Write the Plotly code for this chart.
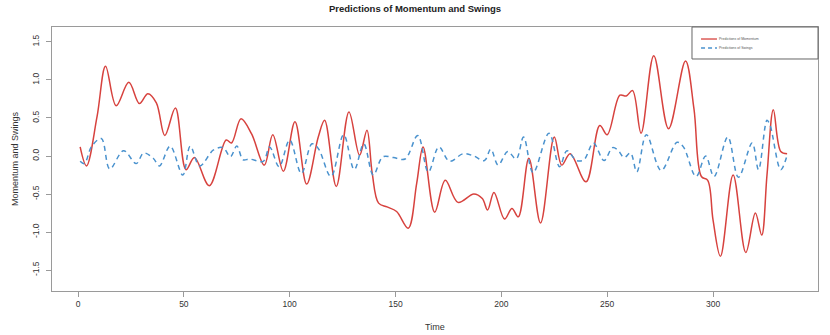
import plotly.graph_objects as go

# Momentum predictions (red)
mom_t = [1, 4, 9, 13, 18, 24, 29, 33, 37, 41, 46, 51, 55, 62, 70, 72.5, 77, 82, 88, 92, 97,
         102.5, 108, 113.5, 116.5, 122, 128, 133, 136.5, 139, 142, 146, 150.5, 156, 160, 163,
         168.5, 173.5, 179.5, 187, 191, 193.5, 196.5, 201.5, 205, 208, 213, 218.5, 225, 228.5,
         232.5, 240, 246.5, 250, 256, 259, 262, 266, 272, 279, 287, 291, 294.5, 297.5, 300,
         303.5, 309.5, 315.5, 320, 323, 325.5, 328.5, 332, 335]
mom_v = [0.12, -0.13, 0.52, 1.18, 0.66, 0.97, 0.69, 0.82, 0.70, 0.27, 0.63, -0.18, -0.02, -0.39,
         0.21, 0.17, 0.49, 0.29, -0.12, 0.28, -0.20, 0.45, -0.37, 0.25, 0.47, -0.40, 0.58, 0.01,
         0.34, -0.23, -0.62, -0.67, -0.73, -0.95, -0.36, 0.12, -0.74, -0.32, -0.61, -0.50, -0.56,
         -0.71, -0.48, -0.83, -0.69, -0.80, -0.03, -0.88, 0.25, -0.12, 0.03, -0.34, 0.40, 0.28,
         0.80, 0.79, 0.86, 0.30, 1.32, 0.36, 1.25, 0.62, -0.27, -0.32, -0.84, -1.32, -0.25, -1.27,
         -0.75, -1.04, -0.25, 0.61, 0.06, 0.03]

# Swings predictions (blue dashed)
sw_t = [1, 3, 6.5, 11, 15, 21.5, 27.5, 31, 35.5, 38.5, 43.5, 49.5, 53, 57.5, 64, 68.5, 72, 75,
        78, 81, 87.5, 90.5, 95, 100, 105.5, 110.5, 113.5, 119.5, 125.5, 130.5, 135, 139.5, 144,
        149, 154.5, 160.5, 165.5, 170.5, 175.5, 182, 187, 192, 195, 198.5, 203, 207, 210.5, 215,
        222.5, 227.5, 231, 235.5, 239, 243.5, 248.5, 252.5, 255, 258, 261, 264, 268.5, 275.5,
        283, 286, 292, 296.5, 300.5, 307, 312, 318.5, 321.5, 325.5, 327, 332, 335]
sw_v = [-0.07, -0.10, 0.13, 0.23, -0.17, 0.07, -0.10, 0.04, -0.03, -0.13, 0.13, -0.25, 0.13,
        -0.13, 0.08, 0.11, -0.01, 0.13, -0.05, -0.04, -0.07, 0.12, -0.14, 0.21, -0.23, 0.16, 0.10,
        -0.27, 0.28, -0.18, 0.16, -0.25, -0.01, -0.02, -0.04, 0.27, -0.21, 0.12, -0.07, 0.03, 0.0,
        -0.06, 0.09, -0.12, 0.06, -0.04, 0.25, -0.22, 0.30, -0.14, 0.07, -0.06, -0.05, 0.17, -0.06,
        0.11, 0.08, -0.02, 0.04, -0.21, 0.28, -0.19, 0.18, 0.12, -0.27, 0.0, -0.27, 0.25, -0.28,
        0.17, -0.18, 0.47, 0.40, -0.18, 0.01]

x_ticks = [0, 50, 100, 150, 200, 250, 300]
y_ticks = [-1.5, -1.0, -0.5, 0.0, 0.5, 1.0, 1.5]
y_tick_text = ["-1.5", "-1.0", "-0.5", "0.0", "0.5", "1.0", "1.5"]

RED = "#D7423E"
BLUE = "#4A92CE"
FONT = "Liberation Sans, Arial, sans-serif"

fig = go.Figure()
fig.add_trace(go.Scatter(x=mom_t, y=mom_v, mode="lines", name="Predictions of Momentum",
                         line=dict(color=RED, width=1.5, shape="spline", smoothing=1.0)))
fig.add_trace(go.Scatter(x=sw_t, y=sw_v, mode="lines", name="Predictions of Swings",
                         line=dict(color=BLUE, width=1.5, dash="5px,4px", shape="spline",
                                   smoothing=1.0)))

axis_common = dict(showline=True, mirror=True, linecolor="#9a9a9a", linewidth=1,
                   ticks="outside", ticklen=5, tickcolor="#9a9a9a", showgrid=False,
                   zeroline=False, tickfont=dict(family=FONT, size=8.5, color="#333333"))

fig.update_layout(
    width=830, height=335,
    margin=dict(l=52, r=12, t=27, b=44),
    paper_bgcolor="white", plot_bgcolor="white",
    showlegend=False,
    title=dict(text="<b>Predictions of Momentum and Swings</b>", x=0.5, xanchor="center",
               y=0.975, yanchor="middle",
               font=dict(family=FONT, size=9.5, color="#222222")),
    xaxis=dict(range=[-12.3, 349.6], tickvals=x_ticks, **axis_common),
    yaxis=dict(range=[-1.776, 1.697], tickvals=y_ticks, ticktext=y_tick_text,
               tickangle=-90, ticklabelstandoff=4, **axis_common),
)

# axis titles
fig.add_annotation(text="Time", x=0.5, y=0, xref="paper", yref="paper", yshift=-36,
                   xanchor="center", yanchor="middle", showarrow=False,
                   font=dict(family=FONT, size=9, color="#333333"))
fig.add_annotation(text="Momentum and Swings", x=0, y=0.5, xref="paper", yref="paper",
                   xshift=-37, textangle=-90, xanchor="center", yanchor="middle",
                   showarrow=False, font=dict(family=FONT, size=9, color="#333333"))

# legend box (top right, inside plot)
fig.add_shape(type="rect", xref="paper", yref="paper", x0=0.8355, x1=1.0, y0=0.8788, y1=1.0,
              line=dict(color="#666666", width=1), fillcolor="white", layer="above")
legend_items = [("Predictions of Momentum", RED, "solid", 0.9545),
                ("Predictions of Swings", BLUE, "4px,3px", 0.9205)]
for label, col, dsh, yy in legend_items:
    fig.add_shape(type="line", xref="paper", yref="paper", x0=0.8473, x1=0.8681, y0=yy, y1=yy,
                  line=dict(color=col, width=1.3, dash=dsh), layer="above")
    fig.add_annotation(text=label, x=0.8681, y=yy, xref="paper", yref="paper",
                       xanchor="left", yanchor="middle", showarrow=False,
                       font=dict(family=FONT, size=3.5, color="#555555"))

fig.write_html("out.html")
